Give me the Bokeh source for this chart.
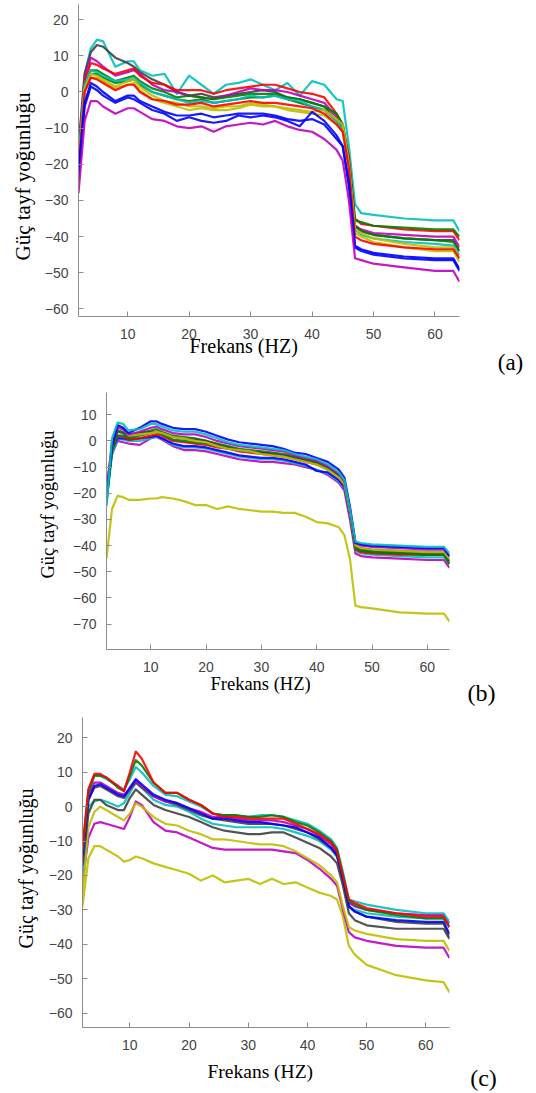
from bokeh.plotting import figure
from bokeh.models import Range1d, SingleIntervalTicker, Title, Label
from bokeh.embed import file_html
from bokeh.resources import INLINE

# ---------------- data ----------------
x_title = "Frekans (HZ)"
y_title = "Güç tayf yoğunluğu"
panel_tags = ["(a)", "(b)", "(c)"]

BLUE, GREEN, RED, CYAN, MAG, OLIVE, GREY = "#0000FF", "#008000", "#FF0000", "#00BFBF", "#BF00BF", "#BFBF00", "#404040"

freq_a = [2, 3, 4, 5, 6, 8, 10, 11, 12, 14, 16, 18, 20, 22, 24, 26, 28, 30, 32, 34, 36, 38, 40, 42, 44, 45, 46, 47, 48, 50, 55, 60, 63, 64]
a_cyan1 = [-17, 5, 12, 14.5, 14, 7, 8.5, 8.5, 6, 4.5, 5, -0.5, 4.5, 2, -0.5, 2, 2.5, 3.5, 2, 0.5, 2.5, -1, 3, 2, -2, -2.5, -15, -31, -33.5, -34, -35, -35.5, -35.5, -38.5]
a_grey1 = [-15, 5, 11, 13, 12.5, 9.5, 8, 7, 5.5, 3.5, 2, 0, -1, -0.5, -1.5, -1, -0.5, 0, 0.5, 0, -1.5, -2, -3, -4, -8, -10, -20, -37, -38.5, -39.5, -40.5, -41, -41, -44]
a_mag1 = [-18, 4, 9.5, 8.5, 7, 4.5, 5.5, 6, 5, 2, 0.5, 0, -1, -1.5, -2, -1, 0, 1, 0.5, 0.5, 0, -1, -2, -3, -7, -10, -20, -37, -38, -39, -39.5, -40, -40, -43]
a_red1 = [-19, 3, 8, 7.5, 6.5, 5, 6, 6.5, 4.5, 2.5, 2, 0.5, 0.5, 0.5, -0.5, 0.5, 1, 1.5, 2, 2, 1, 0, -0.5, -1.5, -6, -9, -18, -35, -36.5, -37, -38, -38.5, -38.5, -41]
a_green1 = [-20, 2, 6, 6, 5, 3, 4, 4.5, 3, 1, 0, -1.5, -1, -1.5, -2, -1.5, -1, -0.5, -0.5, -0.5, -1.5, -2, -3, -4, -6, -9, -19, -35.5, -36, -37, -37.5, -38, -38, -40]
a_green2 = [-21, 1, 5, 5, 4, 2.5, 3, 3.5, 2, 0, -1, -2, -2.5, -2, -3, -2.5, -2, -1.5, -1.5, -1, -2, -3, -4, -5, -8, -10, -20, -37, -38.5, -39.5, -40.5, -41, -41.5, -44]
a_cyan2 = [-18, 2, 6, 5.5, 4.5, 3, 3.5, 4, 2.5, 0, -1, -2, -3, -2.5, -3, -2.5, -2, -1, -1.5, -1, -2, -2.5, -4, -5, -8, -10, -20, -38, -39.5, -40.5, -41.5, -42, -42.5, -45]
a_olive1 = [-20, 1, 5, 4.5, 3.5, 1.5, 3, 3.5, 1.5, -1, -2.5, -3, -4, -4, -4.5, -4, -4, -3, -3.5, -4, -4.5, -5, -5.5, -5, -7.5, -9, -20, -38, -39, -40.5, -42, -43, -43, -46]
a_olive2 = [-21, 0, 4, 4, 3, 1, 2, 2.5, 0.5, -2, -3, -4, -5, -4.5, -5, -5, -4.5, -3.5, -4, -4, -5, -5.5, -6, -6.5, -9, -11, -21, -39, -40, -41.5, -43, -44, -44, -47]
a_red2 = [-21, 0, 4, 3.5, 2.5, 0.5, 2, 2, 0, -2, -2.5, -3.5, -3.5, -3, -4, -3.5, -3, -2.5, -3, -3, -3.5, -4, -4.5, -6, -9, -11, -21, -40, -41, -42, -43, -43.5, -43.5, -46]
a_blue1 = [-22, -3, 2.5, 1.5, 0, -2.5, -1, -1, -2.5, -4, -5.5, -6.5, -6.5, -6, -7, -6.5, -6, -6, -6, -6.5, -7.5, -8, -7.5, -9, -13, -15, -25, -42.5, -43.5, -44.5, -45.5, -46, -46, -49]
a_blue2 = [-24, -4, 1.5, 0.5, -1, -3, -1.5, -2, -3, -5, -6, -8, -7, -8, -8.5, -8, -6.5, -7, -6.5, -7, -8, -9.5, -5.5, -8, -12, -15, -26, -43, -44, -45, -46, -46.5, -46.5, -49.5]
a_mag2 = [-28, -8, -2.5, -2.5, -4, -6, -4.5, -4.5, -5.5, -7.5, -8, -9.5, -10, -9.5, -11, -9.5, -9, -8.5, -9, -8, -9.5, -10.5, -11, -13, -16, -19, -30, -46, -46.5, -47.5, -48.5, -49.5, -49.5, -52.5]

freq_b = [2, 3, 4, 5, 6, 8, 10, 11, 12, 14, 16, 18, 20, 22, 24, 26, 28, 30, 32, 34, 36, 38, 40, 42, 44, 45, 46, 47, 48, 50, 55, 60, 63, 64]
b_blue1 = [-22, -2, 6, 5, 3, 5, 7.5, 7.5, 6.5, 5, 4.5, 4.5, 3.5, 2, 0.5, -0.5, -1, -1.5, -2, -3, -4.5, -5, -6.5, -8, -11, -14, -25, -39, -39.5, -40, -40.5, -41, -41, -44]
b_cyan1 = [-25, 1, 7, 6.5, 4, 4.5, 6.5, 6.5, 5.5, 4, 3.5, 3.5, 2.5, 1, -0.5, -1.5, -2, -2.5, -3, -3.5, -5, -6, -7, -9, -12, -15, -26, -38.5, -39, -39.5, -40, -40.5, -40.5, -43]
b_mag1 = [-18, -2, 5, 4.5, 2.5, 3.5, 5, 5.5, 4.5, 3, 2.5, 2.5, 1.5, 0, -1, -2, -2.5, -3, -3.5, -4, -5.5, -6.5, -7.5, -9.5, -12.5, -15.5, -26, -39, -40, -40.5, -41, -41.5, -41.5, -44]
b_grey = [-20, -1, 3.5, 3, 1.5, 3, 3.5, 3.5, 3, 1.5, 1, 0.5, 0, -1.5, -2.5, -3.5, -4, -4.5, -5, -5.5, -6.5, -7.5, -8.5, -10.5, -13.5, -16, -27, -40, -41, -41.5, -42, -42.5, -42.5, -45]
b_green1 = [-23, -3, 4, 3.5, 2, 3, 4, 4.5, 3.5, 2, 1.5, 1, 0, -1, -2, -3, -3.5, -4, -4.5, -5, -6, -7, -8, -10, -13, -16, -27, -40.5, -41.5, -42, -42.5, -43, -43, -46]
b_green2 = [-23, -4, 2, 2, 1, 2, 3, 3.5, 2.5, 0.5, 0, -0.5, -1, -2, -3, -3.5, -4, -4.5, -5, -5.5, -6.5, -7.5, -9, -10.5, -13.5, -16.5, -27, -41, -42, -42.5, -43, -43.5, -43.5, -47]
b_red = [-21, -3, 2, 1.5, 0.5, 1, 2, 2.5, 2, 0, -0.5, -1, -1.5, -2.5, -3, -4, -4.5, -5, -5.5, -6, -7, -8, -9, -11, -14, -17, -28, -41.5, -42.5, -43, -43.5, -43.5, -43.5, -47]
b_blue2 = [-22, -3, 1, 1, 0.5, 1, 1.5, 2, 1, -1, -2, -2, -2.5, -3.5, -4.5, -5.5, -6, -6.5, -6.5, -7, -8, -9, -11.5, -12, -15, -17.5, -28, -41, -42, -42.5, -43, -43.5, -43.5, -46]
b_cyan2 = [-24, -5, 1, 0.5, 0, 0, 1, 1.5, 1, -1.5, -2.5, -2.5, -3, -4, -5, -6, -6.5, -7, -7, -7.5, -8.5, -9.5, -11, -12.5, -15.5, -18, -28.5, -42, -43, -43.5, -44, -44.5, -44.5, -47]
b_mag2 = [-19, -5, 0, -0.5, -1, -1.5, 1, 1.5, 0.5, -2, -3.5, -3.5, -4, -5, -6, -7, -7.5, -8, -8, -8.5, -9, -10, -11, -13, -16, -19, -30, -43, -44, -44.5, -45, -45.5, -45.5, -48.5]
b_olive1 = [-20, 0, 6, 5, 2, 2.5, 3, 3.5, 3, 1.5, 1, 0, -0.5, -2, -3, -3.5, -4, -5, -5.5, -6, -7, -8, -9, -11, -14, -16.5, -27, -40, -41, -41.5, -42, -42.5, -42.5, -45]
b_olive2 = [-45, -26, -21, -21.5, -22.5, -22.5, -22, -22, -21.5, -22, -23, -24.5, -24.5, -26, -25, -26, -26.5, -27, -27, -27.5, -27.5, -29, -31, -31.5, -33, -36, -45, -63, -63.5, -64, -65.5, -66, -66, -69]

freq_c = [2, 3, 4, 5, 6, 8, 9, 10, 11, 12, 14, 16, 18, 20, 22, 24, 26, 28, 30, 32, 34, 36, 38, 40, 42, 44, 45, 46, 47, 48, 50, 55, 60, 63, 64]
c_red = [-12, 5, 9.5, 9.5, 8.5, 6, 4.5, 10, 16, 14, 7, 4, 4, 2, 0.5, -2, -3, -3, -3.5, -3.5, -3.5, -3.5, -5, -6.5, -8, -10.5, -13, -20, -27, -28, -29.5, -31, -32, -32, -35]
c_green = [-13, 4, 9, 9, 8.5, 5.5, 4.5, 9, 13.5, 12, 7, 4, 4, 2, 0.5, -2, -2.5, -2.5, -3, -3, -2.5, -3, -4.5, -5.5, -7.5, -10, -12.5, -20, -27.5, -28.5, -30, -31.5, -32.5, -32.5, -35]
c_cyan1 = [-12, 5, 9, 9, 8, 6, 5, 8, 11.5, 10, 6, 3.5, 3, 1.5, 0, -2, -2.5, -2.5, -3, -2.5, -2.5, -3, -4, -5, -7, -9.5, -12, -19, -27, -27.5, -28.5, -30, -31, -31, -33.5]
c_blue = [-14, 2, 6, 6.5, 5.5, 3.5, 3, 5.5, 8, 6.5, 3.5, 2, 1, -0.5, -2, -3.5, -3.5, -4, -4.5, -4.5, -5, -5.5, -6, -7.5, -9, -12, -14, -21, -29, -30.5, -32, -33, -33.5, -33.5, -37]
c_mag1 = [-15, 3, 7, 7, 6, 4, 3.5, 5, 7.5, 6, 3, 1.5, 1, -0.5, -1.5, -3, -3, -3.5, -4, -4, -4, -4.5, -5.5, -6.5, -8.5, -11, -13.5, -20, -28, -29, -30, -31, -31.5, -31.5, -34]
c_grey1 = [-16, 2, 5.5, 6, 5, 3, 2.5, 5, 7, 5.5, 3, 1.5, 0.5, -1, -2.5, -3.5, -4, -4.5, -5, -5, -5, -5.5, -6.5, -7.5, -9.5, -12, -14.5, -21, -29, -30.5, -32, -33.5, -34, -34, -38]
c_grey2 = [-17, -2, 2, 2, 0.5, -1, -1, 2.5, 5, 3.5, 0.5, -1, -2, -3, -4.5, -6, -7, -7.5, -8, -8, -7.5, -7.5, -9, -10.5, -12, -14.5, -16.5, -23, -31, -33, -34.5, -35.5, -35.5, -35.5, -38.5]
c_cyan2 = [-19, 0, 1.5, 2, 1.5, 0, 1, 4, 7, 5.5, 2, 0.5, 0, -1.5, -3.5, -5, -5.5, -6, -6, -6, -6, -6.5, -7.5, -8.5, -10, -12.5, -14.5, -21, -29, -30, -31, -32, -32.5, -32.5, -35]
c_olive1 = [-25, -6, -1.5, 0, -1, -3, -4, -2, 1, 0, -3, -5, -5.5, -7, -8, -9.5, -9.5, -10, -10.5, -11, -11, -11.5, -13, -15, -17, -20, -22, -29, -35, -36, -37, -38.5, -39, -39, -42]
c_mag2 = [-22, -9, -5, -4.5, -5, -6, -6.5, -3, 1.5, 0.5, -4.5, -7, -7.5, -9, -10.5, -12, -12.5, -12.5, -12.5, -12.5, -12.5, -13, -13.5, -15.5, -18, -21, -23, -30, -36.5, -38, -39, -40.5, -41, -41, -44]
c_olive2 = [-29, -15, -11.5, -11.5, -12.5, -14.5, -16, -15.5, -14.5, -15, -16.5, -17.5, -18.5, -19.5, -21.5, -20, -22, -21.5, -21, -22.5, -21, -22.5, -22, -23.5, -25, -26, -27, -32, -40.5, -43, -46, -49, -50.5, -51, -54]

series_a = [(a_cyan1, CYAN), (a_grey1, GREY), (a_mag1, MAG), (a_red1, RED), (a_green1, GREEN), (a_green2, GREEN),
            (a_cyan2, CYAN), (a_olive1, OLIVE), (a_olive2, OLIVE), (a_red2, RED), (a_blue1, BLUE), (a_blue2, BLUE), (a_mag2, MAG)]
series_b = [(b_olive2, OLIVE), (b_mag2, MAG), (b_cyan2, CYAN), (b_blue2, BLUE), (b_red, RED), (b_green2, GREEN),
            (b_green1, GREEN), (b_grey, GREY), (b_olive1, OLIVE), (b_mag1, MAG), (b_blue1, BLUE), (b_cyan1, CYAN)]
series_c = [(c_olive2, OLIVE), (c_mag2, MAG), (c_olive1, OLIVE), (c_cyan2, CYAN), (c_grey2, GREY), (c_grey1, GREY),
            (c_mag1, MAG), (c_blue, BLUE), (c_cyan1, CYAN), (c_green, GREEN), (c_red, RED)]

TICK_FONT = "Liberation Sans"
TITLE_FONT = "Liberation Serif"
PAGE_W = 536


def make_panel(freq, series, y_lo, y_hi, height, frame_l, frame_r, border_t, border_b, tag,
               xt, yt, tg):
    p = figure(width=PAGE_W, height=height, output_backend="svg", toolbar_location=None,
               x_range=Range1d(2, 64), y_range=Range1d(y_lo, y_hi),
               min_border_left=frame_l, min_border_right=PAGE_W - frame_r,
               min_border_top=border_t, min_border_bottom=border_b)
    p.xgrid.visible = False
    p.ygrid.visible = False
    p.outline_line_color = None
    for vals, col in series:
        p.line(freq, vals, line_color=col, line_width=2.2, line_alpha=0.9, line_join="round")
    for ax, stand in ((p.xaxis[0], 8), (p.yaxis[0], 6)):
        ax.ticker = SingleIntervalTicker(interval=10)
        ax.minor_tick_line_color = None
        ax.major_tick_in = 5
        ax.major_tick_out = 0
        ax.axis_line_color = "#8c8c8c"
        ax.major_tick_line_color = "#8c8c8c"
        ax.major_label_text_font = TICK_FONT
        ax.major_label_text_font_size = "14px"
        ax.major_label_text_color = "#444444"
        ax.major_label_standoff = stand
    # x title: below, left-aligned with a pixel offset
    p.add_layout(Title(text=x_title, align="left", offset=xt[0], standoff=xt[1],
                       text_font=TITLE_FONT, text_font_size=xt[2], text_font_style="normal",
                       text_color="black"), "below")
    # y title: left side, anchored at its lower end
    p.add_layout(Title(text=y_title, align="left", offset=yt[0], standoff=yt[1],
                       text_font=TITLE_FONT, text_font_size=yt[2], text_font_style="normal",
                       text_color="black"), "left")
    # panel tag, placed from the frame's lower-right corner (kept in the empty right margin)
    p.add_layout(Label(x=64, y=y_lo, x_offset=tg[0], y_offset=tg[1], text=tag,
                       text_font=TITLE_FONT, text_font_size=tg[2], text_color="black",
                       text_align="center", text_baseline="middle"), "right")
    return p


pa = make_panel(freq_a, series_a, -62.1, 24.2, 376, 78, 459, 4, 60, panel_tags[0],
                (111, -17, "20px"), (56, 14, "21px"), (51, -46, "23px"))
pb = make_panel(freq_b, series_b, -79.7, 18.5, 336, 106, 449, 16, 63, panel_tags[1],
                (104, -5, "18.5px"), (71, 24, "18.5px"), (32, -43, "24px"))
pc = make_panel(freq_c, series_c, -64.2, 25.9, 380, 82, 449, 5, 65, panel_tags[2],
                (125, 13, "19.5px"), (79, 17, "20px"), (34, -50, "24px"))

open("out.html", "w").write(file_html([pa, pb, pc], INLINE))
